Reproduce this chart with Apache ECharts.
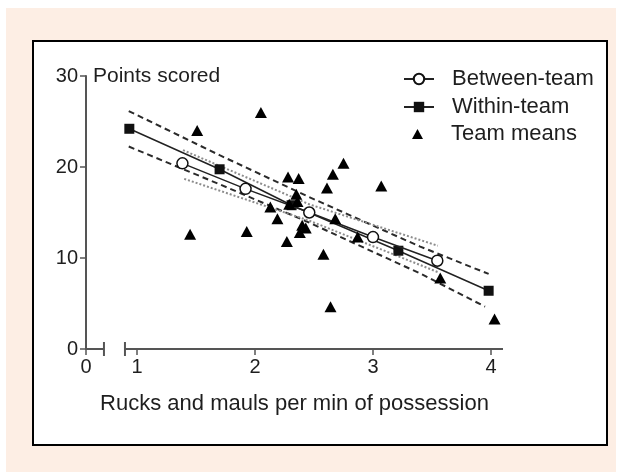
<!DOCTYPE html>
<html><head><meta charset="utf-8">
<script src="https://cdn.jsdelivr.net/npm/echarts@6/dist/echarts.min.js"></script>
<style>
html,body{margin:0;padding:0;background:#fff;width:622px;height:472px;overflow:hidden}
#bg{position:absolute;left:6px;top:8px;width:610px;height:464px;background:#fdeee4}
#box{position:absolute;left:32px;top:40px;width:572px;height:402px;border:2px solid #000;background:#fff}
#chart{position:absolute;left:0;top:0;width:622px;height:472px}
</style></head><body>
<div id="bg"></div><div id="box"></div><div id="chart"></div>
<script>
// ---- data ----
const betweenX = [1.385, 1.92, 2.46, 3.0, 3.545];
const betweenY = [20.4, 17.6, 15.0, 12.3, 9.7];
const withinX = [0.935, 1.70, 2.31, 3.215, 3.98];
const withinY = [24.2, 19.75, 15.8, 10.8, 6.4];
const teamX = [1.51, 1.45, 1.93, 2.05, 2.13, 2.19, 2.27, 2.28, 2.37, 2.35, 2.36, 2.29, 2.40, 2.43, 2.38, 2.58, 2.61, 2.64, 2.66, 2.68, 2.75, 2.87, 3.07, 3.57, 4.03];
const teamY = [24.0, 12.6, 12.9, 26.0, 15.6, 14.3, 11.8, 18.9, 18.75, 17.0, 16.2, 15.9, 13.6, 13.3, 12.8, 10.4, 17.7, 4.65, 19.2, 14.3, 20.4, 12.3, 17.9, 7.8, 3.3];
const withinUpperX = [0.93, 1.70, 2.45, 3.40, 3.98];
const withinUpperY = [26.15, 21.3, 16.75, 11.25, 8.25];
const withinLowerX = [0.93, 1.70, 2.45, 3.40, 3.95];
const withinLowerY = [22.25, 18.1, 13.95, 8.3, 4.65];
const betweenUpperX = [1.39, 2.46, 3.55];
const betweenUpperY = [21.85, 15.9, 11.35];
const betweenLowerX = [1.40, 2.46, 3.55];
const betweenLowerY = [18.7, 14.1, 8.45];
const yTicks = [0, 10, 20, 30];
const xTicks = [1, 2, 3, 4];
// broken x axis: the "0" position sits left of the break
const X_ZERO = 0.5678, X_MAX = 4.1017, BREAK_A = 0.72, BREAK_B = 0.898;

const zip = (xs, ys) => xs.map((x, i) => [x, ys[i]]);
const FONT = 'Liberation Sans, Arial, sans-serif';
const TXT = '#1e1e1e';
const LEG_TEXT = {fontFamily: FONT, fontSize: 22, color: TXT};

const chart = echarts.init(document.getElementById('chart'), null, {renderer: 'canvas'});
chart.setOption({
  animation: false,
  backgroundColor: 'transparent',
  textStyle: {fontFamily: FONT, color: TXT},
  grid: {left: 86, top: 76, right: 119, bottom: 123, containLabel: false},
  legend: [
    {
      orient: 'vertical', left: 403, top: 68, padding: 0,
      itemWidth: 30, itemHeight: 13, itemGap: 6,
      textStyle: Object.assign({padding: [0, 0, 0, 13]}, LEG_TEXT),
      data: ['Between-team', 'Within-team'],
      selectedMode: false
    },
    {
      orient: 'vertical', left: 412, top: 123, padding: 0,
      itemWidth: 11, itemHeight: 10, itemGap: 6,
      textStyle: Object.assign({padding: [0, 0, 0, 23]}, LEG_TEXT),
      data: [{name: 'Team means', icon: 'triangle'}],
      selectedMode: false
    }
  ],
  xAxis: {
    type: 'value', min: X_ZERO, max: X_MAX,
    minInterval: 1, maxInterval: 1,
    splitLine: {show: false},
    axisLine: {show: false},
    axisTick: {show: true, length: 6, lineStyle: {color: '#555', width: 1.5}, customValues: [X_ZERO].concat(xTicks)},
    axisLabel: {show: true, fontSize: 20, color: TXT, margin: 8, customValues: [X_ZERO].concat(xTicks),
      formatter: v => (v < 0.9 ? '0' : (v > 4.05 ? '' : String(Math.round(v))))},
    name: 'Rucks and mauls per min of possession', nameLocation: 'middle', nameGap: 55,
    nameTextStyle: {fontSize: 22, color: TXT, verticalAlign: 'middle'}
  },
  yAxis: {
    type: 'value', min: 0, max: 30, interval: 10,
    splitLine: {show: false},
    axisLine: {show: true, lineStyle: {color: '#555', width: 2}},
    axisTick: {show: true, length: 6, lineStyle: {color: '#555', width: 1.5}},
    axisLabel: {fontSize: 20, color: TXT, margin: 8},
    name: 'Points scored', nameLocation: 'end', nameGap: 0,
    nameTextStyle: {fontSize: 21, color: TXT, align: 'left', verticalAlign: 'middle', padding: [0, 0, 0, 7]}
  },
  series: [
    {
      type: 'custom', silent: true, clip: false, z: 1,
      data: [[X_ZERO, BREAK_A, 0], [BREAK_B, X_MAX, 1]],
      encode: {x: [0, 1]},
      renderItem: (params, api) => {
        const a = api.coord([api.value(0), 0]);
        const b = api.coord([api.value(1), 0]);
        const style = {stroke: '#555', lineWidth: 2, fill: null};
        const capX = api.value(2) === 0 ? b[0] : a[0];
        return {type: 'group', children: [
          {type: 'line', shape: {x1: a[0], y1: a[1], x2: b[0], y2: b[1]}, style},
          {type: 'line', shape: {x1: capX, y1: a[1] - 7, x2: capX, y2: a[1] + 7}, style}
        ]};
      }
    },
    {type: 'line', data: zip(withinUpperX, withinUpperY), symbol: 'none', silent: true, z: 2,
      lineStyle: {color: '#2a2a2a', width: 2, type: [6, 4]}},
    {type: 'line', data: zip(withinLowerX, withinLowerY), symbol: 'none', silent: true, z: 2,
      lineStyle: {color: '#2a2a2a', width: 2, type: [6, 4]}},
    {type: 'line', data: zip(betweenUpperX, betweenUpperY), symbol: 'none', silent: true, z: 2,
      lineStyle: {color: '#8c8c8c', width: 2, type: [2, 2]}},
    {type: 'line', data: zip(betweenLowerX, betweenLowerY), symbol: 'none', silent: true, z: 2,
      lineStyle: {color: '#8c8c8c', width: 2, type: [2, 2]}},
    {name: 'Within-team', type: 'line', data: zip(withinX, withinY), symbol: 'rect', symbolSize: 10, z: 3,
      itemStyle: {color: '#111'}, lineStyle: {color: '#222', width: 1.5}},
    {name: 'Between-team', type: 'line', data: zip(betweenX, betweenY), symbol: 'circle', symbolSize: 11, z: 4,
      itemStyle: {color: '#fff', borderColor: '#111', borderWidth: 1.5}, lineStyle: {color: '#222', width: 1.5}},
    {name: 'Team means', type: 'scatter', data: zip(teamX, teamY), symbol: 'triangle', symbolSize: [12, 11], z: 5,
      itemStyle: {color: '#000', opacity: 1}}
  ]
});
</script>
</body></html>
